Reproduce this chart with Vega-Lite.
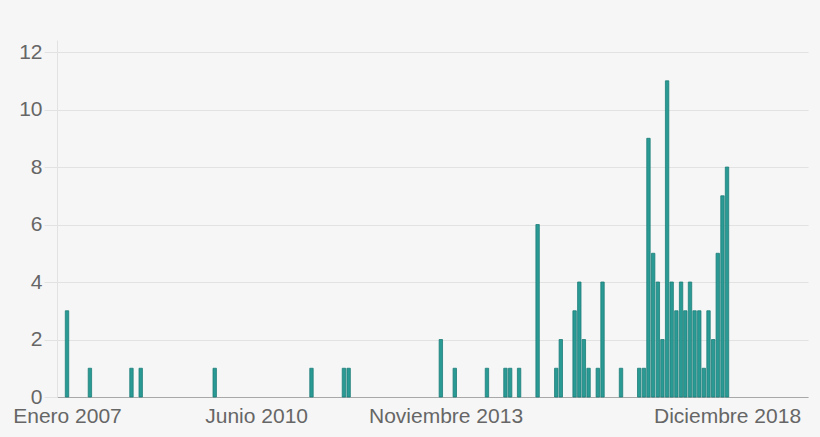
{
  "$schema": "https://vega.github.io/schema/vega-lite/v6.json",
  "autosize": {"type": "none"},
  "padding": {"left": 57, "top": 40, "right": 12, "bottom": 40},
  "width": 751,
  "height": 357,
  "background": "#f6f6f6",
  "config": {
    "view": {"stroke": null},
    "font": "Liberation Sans"
  },
  "data": {
    "values": [
      {"fecha": "2007-01-01T00:00:00", "n": 3},
      {"fecha": "2007-06-01T00:00:00", "n": 1},
      {"fecha": "2008-03-01T00:00:00", "n": 1},
      {"fecha": "2008-05-01T00:00:00", "n": 1},
      {"fecha": "2009-09-01T00:00:00", "n": 1},
      {"fecha": "2011-06-01T00:00:00", "n": 1},
      {"fecha": "2012-01-01T00:00:00", "n": 1},
      {"fecha": "2012-02-01T00:00:00", "n": 1},
      {"fecha": "2013-10-01T00:00:00", "n": 2},
      {"fecha": "2014-01-01T00:00:00", "n": 1},
      {"fecha": "2014-08-01T00:00:00", "n": 1},
      {"fecha": "2014-12-01T00:00:00", "n": 1},
      {"fecha": "2015-01-01T00:00:00", "n": 1},
      {"fecha": "2015-03-01T00:00:00", "n": 1},
      {"fecha": "2015-07-01T00:00:00", "n": 6},
      {"fecha": "2015-11-01T00:00:00", "n": 1},
      {"fecha": "2015-12-01T00:00:00", "n": 2},
      {"fecha": "2016-03-01T00:00:00", "n": 3},
      {"fecha": "2016-04-01T00:00:00", "n": 4},
      {"fecha": "2016-05-01T00:00:00", "n": 2},
      {"fecha": "2016-06-01T00:00:00", "n": 1},
      {"fecha": "2016-08-01T00:00:00", "n": 1},
      {"fecha": "2016-09-01T00:00:00", "n": 4},
      {"fecha": "2017-01-01T00:00:00", "n": 1},
      {"fecha": "2017-05-01T00:00:00", "n": 1},
      {"fecha": "2017-06-01T00:00:00", "n": 1},
      {"fecha": "2017-07-01T00:00:00", "n": 9},
      {"fecha": "2017-08-01T00:00:00", "n": 5},
      {"fecha": "2017-09-01T00:00:00", "n": 4},
      {"fecha": "2017-10-01T00:00:00", "n": 2},
      {"fecha": "2017-11-01T00:00:00", "n": 11},
      {"fecha": "2017-12-01T00:00:00", "n": 4},
      {"fecha": "2018-01-01T00:00:00", "n": 3},
      {"fecha": "2018-02-01T00:00:00", "n": 4},
      {"fecha": "2018-03-01T00:00:00", "n": 3},
      {"fecha": "2018-04-01T00:00:00", "n": 4},
      {"fecha": "2018-05-01T00:00:00", "n": 3},
      {"fecha": "2018-06-01T00:00:00", "n": 3},
      {"fecha": "2018-07-01T00:00:00", "n": 1},
      {"fecha": "2018-08-01T00:00:00", "n": 3},
      {"fecha": "2018-09-01T00:00:00", "n": 2},
      {"fecha": "2018-10-01T00:00:00", "n": 5},
      {"fecha": "2018-11-01T00:00:00", "n": 7},
      {"fecha": "2018-12-01T00:00:00", "n": 8}
    ]
  },
  "mark": {"type": "bar", "width": 3.4, "color": "#2a9a95", "stroke": "#1d7d79", "strokeWidth": 0.8},
  "encoding": {
    "x": {
      "field": "fecha",
      "type": "temporal",
      "scale": {
        "nice": false,
        "padding": 0,
        "domain": [
          {"year": 2006, "month": 10, "date": 27},
          {"year": 2020, "month": 5, "date": 18}
        ]
      },
      "axis": {
        "title": null,
        "grid": false,
        "ticks": false,
        "domainColor": "#a8a8a8",
        "domainWidth": 1,
        "labelColor": "#666666",
        "labelFontSize": 21,
        "labelPadding": 8,
        "labelFlush": false,
        "labelOverlap": false,
        "values": [
          {"year": 2007, "month": 1, "date": 1},
          {"year": 2010, "month": 6, "date": 1},
          {"year": 2013, "month": 11, "date": 1},
          {"year": 2018, "month": 12, "date": 1}
        ],
        "labelExpr": "['Enero','Febrero','Marzo','Abril','Mayo','Junio','Julio','Agosto','Septiembre','Octubre','Noviembre','Diciembre'][month(datum.value)] + ' ' + year(datum.value)"
      }
    },
    "y": {
      "field": "n",
      "type": "quantitative",
      "scale": {"domain": [0, 12.42], "nice": false},
      "axis": {
        "title": null,
        "values": [0, 2, 4, 6, 8, 10, 12],
        "grid": true,
        "gridColor": "#e2e2e2",
        "tickColor": "#e2e2e2",
        "tickSize": 13,
        "domainColor": "#e2e2e2",
        "labelColor": "#666666",
        "labelFontSize": 21,
        "labelPadding": 2
      }
    }
  }
}
